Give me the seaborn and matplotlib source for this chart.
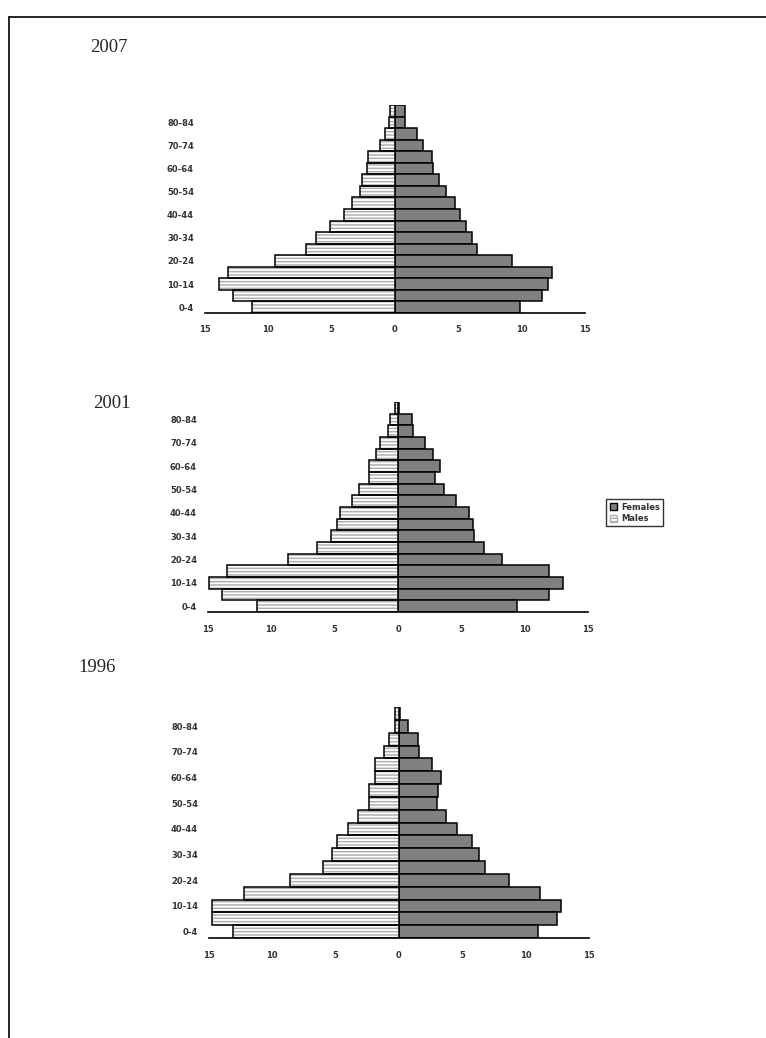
import matplotlib
matplotlib.use('Agg')
import matplotlib.pyplot as plt
from matplotlib.lines import Line2D
from matplotlib.patches import Patch
import seaborn as sns
import pandas as pd

# age groups, youngest first
ages = ['0-4', '5-9', '10-14', '15-19', '20-24', '25-29', '30-34', '35-39', '40-44',
        '45-49', '50-54', '55-59', '60-64', '65-69', '70-74', '75-79', '80-84', '85+']
shown_ages = ['0-4', '10-14', '20-24', '30-34', '40-44', '50-54', '60-64', '70-74', '80-84']

males_2007 = [11.3, 12.8, 13.9, 13.2, 9.5, 7.0, 6.2, 5.1, 4.0, 3.4, 2.8, 2.6, 2.2, 2.1, 1.2, 0.8, 0.5, 0.4]
females_2007 = [9.9, 11.6, 12.1, 12.4, 9.2, 6.5, 6.1, 5.6, 5.1, 4.7, 4.0, 3.5, 3.0, 2.9, 2.2, 1.7, 0.8, 0.8]

males_2001 = [11.1, 13.9, 14.9, 13.5, 8.7, 6.4, 5.3, 4.8, 4.6, 3.6, 3.1, 2.3, 2.3, 1.7, 1.4, 0.8, 0.6, 0.2]
females_2001 = [9.4, 11.9, 13.0, 11.9, 8.2, 6.8, 6.0, 5.9, 5.6, 4.6, 3.6, 2.9, 3.3, 2.8, 2.1, 1.2, 1.1, 0.1]

males_1996 = [13.1, 14.8, 14.8, 12.2, 8.6, 6.0, 5.3, 4.9, 4.0, 3.2, 2.4, 2.4, 1.9, 1.9, 1.2, 0.8, 0.3, 0.3]
females_1996 = [11.0, 12.5, 12.8, 11.1, 8.7, 6.8, 6.3, 5.8, 4.6, 3.7, 3.0, 3.1, 3.3, 2.6, 1.6, 1.5, 0.7, 0.05]

xticks = [-15, -10, -5, 0, 5, 10, 15]
xtick_labels = ['15', '10', '5', '0', '5', '10', '15']

female_color = '#808080'
stripe_color = '#b0b0b0'
plt.rcParams['hatch.linewidth'] = 1.1

sns.set_style('white')

fig = plt.figure(figsize=(7.66, 10.38), dpi=100)

# page frame (top and left edges)
fig.add_artist(Line2D([9 / 766, 1.0], [1 - 17 / 1038, 1 - 17 / 1038], color='black', lw=1.2))
fig.add_artist(Line2D([9 / 766, 9 / 766], [0, 1 - 17 / 1038], color='black', lw=1.2))

panels = [
    # year, males, females, axes rect, title position (px)
    ('2007', males_2007, females_2007, [205 / 766, 1 - 313 / 1038, 380 / 766, 208 / 1038], (90, 47)),
    ('2001', males_2001, females_2001, [208 / 766, 1 - 612 / 1038, 380 / 766, 210 / 1038], (93, 404)),
    ('1996', males_1996, females_1996, [209 / 766, 1 - 938 / 1038, 380 / 766, 231 / 1038], (78, 668)),
]

for year, males, females, rect, title_pos in panels:
    ax = fig.add_axes(rect)
    df = pd.DataFrame({'age': ages, 'males': [-m for m in males], 'females': females})
    order = ages[::-1]

    # females: solid grey
    sns.barplot(data=df, y='age', x='females', order=order, orient='h', ax=ax,
                color=female_color, edgecolor='black', linewidth=1.1, width=1.0,
                errorbar=None, saturation=1)
    # males: white with grey horizontal stripes, then black outline on top
    sns.barplot(data=df, y='age', x='males', order=order, orient='h', ax=ax,
                color='white', edgecolor=stripe_color, linewidth=0, hatch='-----',
                width=1.0, errorbar=None, saturation=1)
    sns.barplot(data=df, y='age', x='males', order=order, orient='h', ax=ax,
                color='black', fill=False, linewidth=1.1, width=1.0,
                errorbar=None)

    ax.set_xlim(-15, 15)
    ax.set_ylim(len(ages) - 0.5, -0.5)
    ax.set_xticks(xticks)
    ax.set_xticklabels(xtick_labels)
    ticks = [order.index(a) for a in shown_ages]
    ax.set_yticks(ticks)
    ax.set_yticklabels(shown_ages)
    ax.set_xlabel('')
    ax.set_ylabel('')
    ax.tick_params(axis='both', length=0, labelsize=6, labelcolor='#333333')
    ax.tick_params(axis='x', pad=9)
    ax.tick_params(axis='y', pad=8)
    for lbl in ax.get_xticklabels() + ax.get_yticklabels():
        lbl.set_fontweight('bold')

    for side in ['left', 'top', 'right']:
        ax.spines[side].set_visible(False)
    ax.spines['bottom'].set_color('black')
    ax.spines['bottom'].set_linewidth(1.2)

    fig.text(title_pos[0] / 766, 1 - title_pos[1] / 1038, year, va='center', ha='left',
             family='Liberation Serif', fontsize=13.5)

# legend for the whole figure
handles = [Patch(facecolor=female_color, edgecolor='black', label='Females'),
           Patch(facecolor='white', edgecolor=stripe_color, hatch='-----', label='Males')]
leg = fig.legend(handles=handles, loc='upper left', bbox_to_anchor=(602 / 766, 1 - 495 / 1038),
                 fontsize=6, frameon=True, fancybox=False, handlelength=0.9, handleheight=0.9,
                 handletextpad=0.5, borderpad=0.4, labelspacing=0.3)
leg.get_frame().set_edgecolor('black')
leg.get_frame().set_linewidth(1.0)
for t in leg.get_texts():
    t.set_fontweight('bold')
    t.set_color('#333333')

fig.savefig('out.png', dpi=100)
